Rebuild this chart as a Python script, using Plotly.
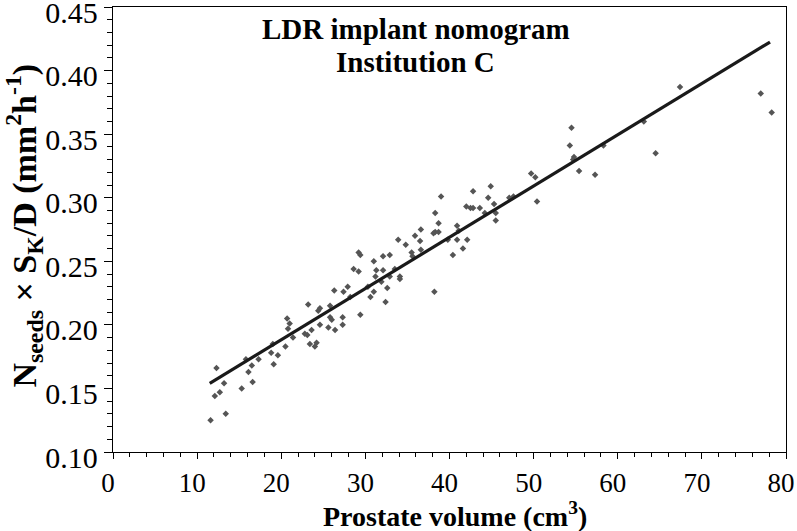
import plotly.graph_objects as go

volume = [12.3, 12.1, 12.7, 13.2, 11.6, 13.4, 15.3, 15.8, 16.1, 16.5, 16.6, 17.3, 18.8, 19.1, 19.6, 19.0,
          20.5, 21.4, 20.7, 21.0, 20.8, 22.8, 23.1, 23.4, 24.0, 24.2, 23.2, 24.4, 24.6, 25.8, 25.8, 26.0,
          23.6, 24.6, 25.6, 26.4, 26.3, 27.4, 27.9, 28.2, 27.3, 27.3, 28.6, 29.2, 29.2, 29.4, 29.4,
          30.3, 31.0, 31.3, 32.1, 31.2, 31.9, 32.9, 33.5, 34.1, 34.1, 32.6, 32.1, 32.9, 30.6, 31.0, 32.4,
          33.9, 34.8, 35.5, 35.6, 36.6, 35.9, 36.5, 36.6, 38.1, 38.3, 38.7, 38.3, 38.7, 39.0, 39.8,
          40.4, 40.9, 41.1, 40.9, 41.6, 42.1, 42.0, 42.5, 42.8, 42.8, 43.6, 44.2, 44.6, 44.9, 45.3,
          45.5, 45.5, 38.2, 47.1, 47.6, 49.7, 50.2, 50.4, 54.3, 54.5, 54.8, 54.7, 55.4, 57.3, 58.3,
          63.1, 64.5, 67.4, 77.0, 78.3]
seed_strength = [0.166, 0.144, 0.147, 0.154, 0.125, 0.130, 0.150, 0.173, 0.163, 0.168, 0.155, 0.173, 0.178, 0.169, 0.176, 0.185,
                 0.183, 0.190, 0.205, 0.201, 0.197, 0.193, 0.192, 0.185, 0.183, 0.186, 0.216, 0.211, 0.213, 0.215, 0.206, 0.204,
                 0.196, 0.200, 0.198, 0.196, 0.227, 0.226, 0.230, 0.222, 0.206, 0.200, 0.244, 0.257, 0.242, 0.208, 0.255,
                 0.230, 0.250, 0.243, 0.243, 0.238, 0.234, 0.238, 0.244, 0.238, 0.236, 0.229, 0.254, 0.255, 0.222, 0.226, 0.218,
                 0.267, 0.263, 0.257, 0.254, 0.259, 0.270, 0.266, 0.275, 0.272, 0.273, 0.273, 0.288, 0.280, 0.301, 0.267,
                 0.255, 0.278, 0.274, 0.267, 0.260, 0.267, 0.293, 0.292, 0.292, 0.305, 0.292, 0.288, 0.300, 0.309, 0.295,
                 0.288, 0.282, 0.226, 0.300, 0.301, 0.319, 0.316, 0.297, 0.341, 0.355, 0.332, 0.330, 0.321, 0.318, 0.341,
                 0.360, 0.335, 0.387, 0.382, 0.367]

fit_x = [11.5, 78.1]
fit_intercept = 0.1077
fit_slope = 0.00403
fit_y = [fit_intercept + fit_slope * v for v in fit_x]

x_ticks = [0, 10, 20, 30, 40, 50, 60, 70, 80]
y_ticks = [0.10, 0.15, 0.20, 0.25, 0.30, 0.35, 0.40, 0.45]

font_family = "Liberation Serif"

fig = go.Figure()
fig.add_trace(go.Scatter(
    x=volume, y=seed_strength, mode="markers",
    marker=dict(symbol="diamond", size=5, color="#555555", line=dict(width=0)),
    showlegend=False))
fig.add_trace(go.Scatter(
    x=fit_x, y=fit_y, mode="lines",
    line=dict(color="#1a1a1a", width=3.2), showlegend=False))

fig.update_layout(
    width=797, height=531,
    margin=dict(l=113, r=11, t=7, b=79, autoexpand=False),
    paper_bgcolor="white", plot_bgcolor="white",
    font=dict(family=font_family, color="black", size=24),
    annotations=[
        dict(text="<b>LDR implant nomogram</b>", x=0.45, y=0.95, xref="paper", yref="paper",
             showarrow=False, font=dict(size=29, family=font_family), xanchor="center", yanchor="middle"),
        dict(text="<b>Institution C</b>", x=0.45, y=0.877, xref="paper", yref="paper",
             showarrow=False, font=dict(size=29, family=font_family), xanchor="center", yanchor="middle"),
        dict(text="<b>Prostate volume (cm<sup>3</sup>)</b>", x=0.508, y=-0.14, xref="paper", yref="paper",
             showarrow=False, font=dict(size=28, family=font_family), xanchor="center", yanchor="middle"),
        dict(text="<b>N<sub>seeds</sub> × S<sub>K</sub>/D (mm<sup>2</sup>h<sup>-1</sup>)</b>",
             x=-0.133, y=0.51, xref="paper", yref="paper", textangle=-90,
             showarrow=False, font=dict(size=34, family=font_family), xanchor="center", yanchor="middle"),
    ],
)
fig.update_xaxes(
    range=[0, 80], tickvals=x_ticks, ticktext=[str(v) for v in x_ticks],
    showline=True, linecolor="black", linewidth=1.3, mirror=True, automargin=False,
    ticks="outside", ticklen=6, tickwidth=1.3, tickcolor="black",
    minor=dict(dtick=2, ticks="outside", ticklen=4, tickwidth=1, tickcolor="black"),
    showgrid=False, zeroline=False, ticklabeloverflow="allow", ticklabelshift=-5,
    tickfont=dict(size=27, family=font_family),
)
fig.update_yaxes(
    range=[0.10, 0.45], tickvals=y_ticks, ticktext=[f"{v:.2f}" for v in y_ticks],
    showline=True, linecolor="black", linewidth=1.3, mirror=True, automargin=False,
    ticks="outside", ticklen=8, tickwidth=1.3, tickcolor="black",
    minor=dict(dtick=0.01, ticks="outside", ticklen=5, tickwidth=1, tickcolor="black"),
    showgrid=False, zeroline=False, ticklabeloverflow="allow", ticklabelshift=5,
    tickfont=dict(size=30, family=font_family),
)

fig.write_html("out.html", config={"displayModeBar": False},
               post_script="document.body.style.margin='0';document.body.style.padding='0';")
